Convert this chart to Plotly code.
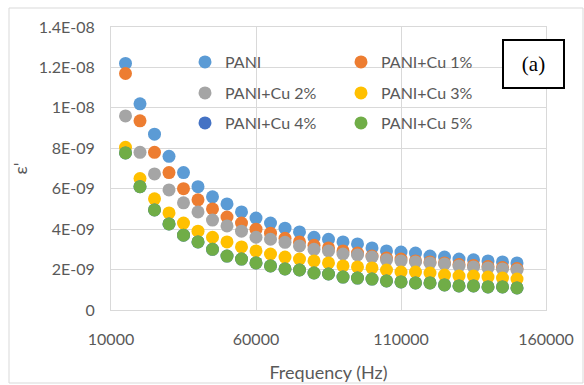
import plotly.graph_objects as go

freq = [15000, 20000, 25000, 30000, 35000, 40000, 45000, 50000, 55000, 60000,
        65000, 70000, 75000, 80000, 85000, 90000, 95000, 100000, 105000, 110000,
        115000, 120000, 125000, 130000, 135000, 140000, 145000, 150000]

# values in units of 1E-09
pani = [12.2, 10.2, 8.7, 7.6, 6.8, 6.1, 5.6, 5.25, 4.85, 4.55, 4.3, 4.05, 3.86, 3.6,
        3.5, 3.37, 3.27, 3.07, 2.92, 2.87, 2.82, 2.67, 2.62, 2.52, 2.48, 2.43, 2.38, 2.33]
cu1 = [11.7, 9.36, 7.8, 6.8, 6.0, 5.45, 5.0, 4.6, 4.3, 4.0, 3.8, 3.55, 3.37, 3.2,
       3.07, 2.92, 2.82, 2.67, 2.57, 2.52, 2.43, 2.38, 2.33, 2.25, 2.2, 2.15, 2.1, 2.05]
cu2 = [9.6, 7.8, 6.73, 5.94, 5.3, 4.85, 4.45, 4.16, 3.9, 3.6, 3.5, 3.35, 3.17, 3.0,
       2.92, 2.77, 2.72, 2.62, 2.48, 2.43, 2.38, 2.33, 2.28, 2.18, 2.13, 2.08, 2.03, 1.98]
cu3 = [8.05, 6.5, 5.5, 4.8, 4.3, 3.9, 3.6, 3.37, 3.12, 2.92, 2.77, 2.62, 2.52, 2.43,
       2.33, 2.18, 2.13, 2.08, 1.98, 1.88, 1.88, 1.83, 1.73, 1.68, 1.68, 1.63, 1.58, 1.53]
cu4 = [7.77, 6.1, 4.95, 4.26, 3.7, 3.37, 3.0, 2.67, 2.52, 2.33, 2.18, 2.03, 1.98, 1.83,
       1.78, 1.63, 1.58, 1.53, 1.44, 1.39, 1.34, 1.34, 1.24, 1.19, 1.19, 1.14, 1.14, 1.09]
cu5 = [7.77, 6.1, 4.95, 4.26, 3.7, 3.37, 3.0, 2.67, 2.52, 2.33, 2.18, 2.03, 1.98, 1.83,
       1.78, 1.63, 1.58, 1.53, 1.44, 1.39, 1.34, 1.34, 1.24, 1.19, 1.19, 1.14, 1.14, 1.09]

names = ["PANI", "PANI+Cu 1%", "PANI+Cu 2%", "PANI+Cu 3%", "PANI+Cu 4%", "PANI+Cu 5%"]
colors = ["#5B9BD5", "#ED7D31", "#A5A5A5", "#FFC000", "#4472C4", "#70AD47"]
series = [pani, cu1, cu2, cu3, cu4, cu5]
legends = ["legend", "legend", "legend2", "legend2", "legend3", "legend3"]

y_tickvals = [0, 2e-9, 4e-9, 6e-9, 8e-9, 1e-8, 1.2e-8, 1.4e-8]
y_ticktext = ["0", "2E-09", "4E-09", "6E-09", "8E-09", "1E-08", "1.2E-08", "1.4E-08"]
x_tickvals = [10000, 60000, 110000, 160000]
x_ticktext = ["10000", "60000", "110000", "160000"]

FONT = "Lato"
GRAY = "#595959"
GRID = "#d9d9d9"

fig = go.Figure()
for name, col, vals, lg in zip(names, colors, series, legends):
    fig.add_trace(go.Scatter(
        x=freq, y=[v * 1e-9 for v in vals], mode="markers", name=name,
        marker=dict(color=col, size=13, line=dict(width=0)),
        legend=lg,
    ))

W, H = 584, 385
L, R, T, B = 111, 38, 27, 75
pw, ph = W - L - R, H - T - B

def px(x):
    return (x - L) / pw

def py(y):
    return 1 - (y - T) / ph

leg_common = dict(orientation="h", xanchor="left", yanchor="middle",
                  entrywidth=111, entrywidthmode="pixels",
                  font=dict(family=FONT, size=16, color=GRAY),
                  bgcolor="rgba(0,0,0,0)", itemclick=False)

fig.update_layout(
    width=W, height=H,
    margin=dict(l=L, r=R, t=T, b=B, autoexpand=False),
    paper_bgcolor="white", plot_bgcolor="white",
    font=dict(family=FONT, size=16, color=GRAY),
    legend=dict(x=px(185), y=py(62), **leg_common),
    legend2=dict(x=px(185), y=py(93), **leg_common),
    legend3=dict(x=px(185), y=py(123), **leg_common),
    xaxis=dict(range=[10000, 160000], tickvals=x_tickvals, ticktext=x_ticktext,
               automargin=False,
               showgrid=True, gridcolor=GRID, gridwidth=1,
               showline=True, linecolor=GRID, linewidth=1, mirror=True,
               zeroline=False, ticks="", ticklabelstandoff=15,
               tickfont=dict(family=FONT, size=16, color=GRAY),
               title=dict(text="Frequency (Hz)", standoff=19,
                          font=dict(family=FONT, size=18, color=GRAY))),
    yaxis=dict(range=[0, 1.4e-8], tickvals=y_tickvals, ticktext=y_ticktext,
               automargin=False,
               showgrid=True, gridcolor=GRID, gridwidth=1,
               showline=True, linecolor=GRID, linewidth=1, mirror=True,
               zeroline=False, ticks="", ticklabelstandoff=12,
               tickfont=dict(family=FONT, size=16, color=GRAY),
               title=dict(text="ε'", standoff=6,
                          font=dict(family=FONT, size=18, color=GRAY))),
    showlegend=True,
)

# outer chart-area border
fig.add_shape(type="rect", xref="paper", yref="paper",
              x0=px(9), x1=px(583), y0=py(383), y1=py(8),
              line=dict(color=GRID, width=1), fillcolor="rgba(0,0,0,0)", layer="below")

# (a) label box
fig.add_annotation(xref="paper", yref="paper", x=px(533.5), y=py(64),
                   xanchor="center", yanchor="middle", showarrow=False,
                   text="(a)", font=dict(family="Liberation Serif", size=21, color="black"),
                   bgcolor="white", bordercolor="black", borderwidth=2,
                   width=58, height=45, borderpad=0.5)

fig.write_html("out.html", config={"displayModeBar": False},
               post_script="document.body.style.margin='0';")
